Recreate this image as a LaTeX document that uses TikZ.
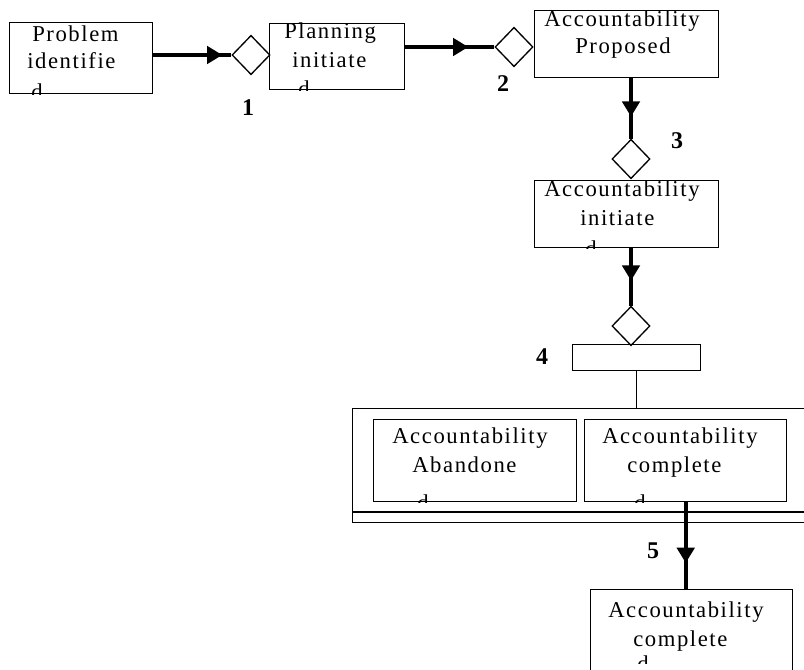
\documentclass[tikz,border=0pt]{standalone}
\usepackage{fontspec}
\setmainfont{Liberation Serif}[LetterSpace=7]
\usetikzlibrary{shapes.geometric,arrows.meta,decorations.markings}
\begin{document}
\begin{tikzpicture}[
  x=0.75pt, y=-0.75pt,
  box/.style={draw, line width=1.1pt, rectangle, inner sep=0pt, anchor=north west},
  gate/.style={draw, line width=1pt, diamond, inner sep=0pt, minimum width=28.5pt, minimum height=29.5pt, fill=white},
  txt/.style={anchor=base west, inner sep=0pt, font=\fontsize{17}{20}\selectfont},
  num/.style={inner sep=0pt, font=\fontsize{18}{21}\selectfont\bfseries},
  flow/.style={line width=3pt},
  flowtip/.style={postaction={decorate}, decoration={markings, mark=at position #1 with {\arrow{Triangle[length=11.5pt,width=13pt]}}}},
]
\useasboundingbox (0,0) rectangle (804,670);
\clip (0,0) rectangle (804,670);

% boxes
\node[box, minimum width=107.25pt, minimum height=53.25pt] (b1) at (9,22) {};
\node[box, minimum width=101.25pt, minimum height=49.5pt] (b2) at (269,23) {};
\node[box, minimum width=138pt, minimum height=50.25pt] (b3) at (534,10) {};
\node[box, minimum width=138pt, minimum height=50.25pt] (b4) at (534,180) {};
\node[box, minimum width=96pt, minimum height=19.5pt] (bar) at (572,344) {};
\node[box, minimum width=358.5pt, minimum height=85.5pt] (cont) at (352,408) {};
\node[box, minimum width=152.25pt, minimum height=61.5pt] (ba) at (373,419) {};
\node[box, minimum width=151.5pt, minimum height=61.5pt] (bc) at (584,419) {};
\node[box, minimum width=151.5pt, minimum height=83.25pt] (bf) at (590,589) {};
\draw[line width=1.1pt] (cont.west |- 0,512) -- (cont.east |- 0,512);

% diamonds
\node[gate] (d1) at (251,55) {};
\node[gate] (d2) at (514,47) {};
\node[gate] (d3) at (631,159) {};
\node[gate] (d4) at (631,326) {};

% connectors
\draw[flow, flowtip=-6.75pt] (b1.east |- d1.west) -- (d1.west);
\draw[flow, flowtip=-19.5pt] (b2.east |- d2.west) -- (d2.west);
\draw[flow, flowtip=-16.5pt] (d3.north |- b3.south) -- (d3.north);
\draw[flow, flowtip=-18.75pt] (d4.north |- b4.south) -- (d4.north);
\draw[line width=1pt] (bar.south) -- (bar.south |- cont.north);
\draw[flow, flowtip=-19.5pt] (bc.south) -- (bc.south |- bf.north);

% texts (clipped to their boxes)
\begin{scope}
\clip (b1.north west) rectangle (b1.south east);
\node[txt] (t1a) at (32,42) {Problem};
\node[txt] (t1b) at (27,69) {identifie};
\node[txt] (t1c) at (31,100) {d};
\end{scope}
\begin{scope}
\clip (b2.north west) rectangle (b2.south east);
\node[txt] (t2a) at (284,39) {Planning};
\node[txt] (t2b) at (292,68) {initiate};
\node[txt] (t2c) at (298,97) {d};
\end{scope}
\begin{scope}
\clip (b3.north west) rectangle (b3.south east);
\node[txt] (t3a) at (544,27) {Accountability};
\node[txt] (t3b) at (575,54) {Proposed};
\end{scope}
\begin{scope}
\clip (b4.north west) rectangle (b4.south east);
\node[txt] (t4a) at (544,197) {Accountability};
\node[txt] (t4b) at (580,226) {initiate};
\node[txt] (t4c) at (585,257) {d};
\end{scope}
\begin{scope}
\clip (ba.north west) rectangle (ba.south east);
\node[txt] (tAa) at (392,444) {Accountability};
\node[txt] (tAb) at (412,473) {Abandone};
\node[txt] (tAc) at (417,510) {d};
\end{scope}
\begin{scope}
\clip (bc.north west) rectangle (bc.south east);
\node[txt] (tCa) at (602,444) {Accountability};
\node[txt] (tCb) at (627,473) {complete};
\node[txt] (tCc) at (634,510) {d};
\end{scope}
\begin{scope}
\clip (bf.north west) rectangle (bf.east |- 0,663);
\node[txt] (tFa) at (608,617) {Accountability};
\node[txt] (tFb) at (633,646) {complete};
\node[txt] (tFc) at (637,671) {d};
\end{scope}

% labels
\node[num] (n1) at (248,108) {1};
\node[num] (n2) at (503,84) {2};
\node[num] (n3) at (677,141) {3};
\node[num] (n4) at (542,357) {4};
\node[num] (n5) at (653,551) {5};
\end{tikzpicture}
\end{document}
